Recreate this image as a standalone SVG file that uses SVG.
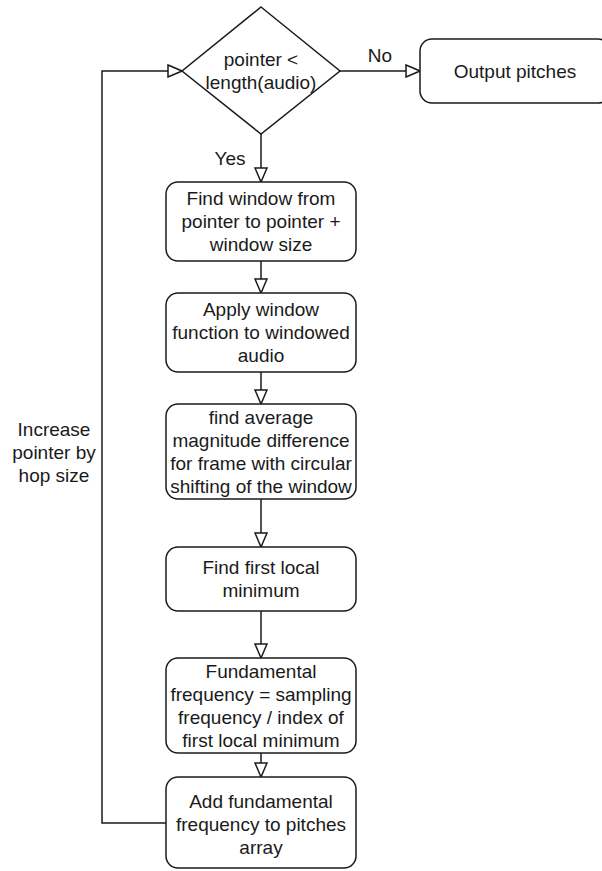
<svg xmlns="http://www.w3.org/2000/svg" width="602" height="871" viewBox="0 0 602 871">
  <style>
    .shape { fill: #ffffff; stroke: #1a1a1a; stroke-width: 1.5; }
    .edge { fill: none; stroke: #1a1a1a; stroke-width: 1.5; marker-end: url(#openArrow); }
    text { font-family: "Liberation Sans", Arial, Helvetica, sans-serif; font-size: 19px; fill: #1a1a1a; text-anchor: middle; }
  </style>
  <defs>
    <marker id="openArrow" markerUnits="userSpaceOnUse" viewBox="0 0 16 14" markerWidth="16" markerHeight="14" refX="15" refY="7" orient="auto">
      <path d="M1,1 L15,7 L1,13 Z" fill="#ffffff" stroke="#1a1a1a" stroke-width="1.5"/>
    </marker>
  </defs>

  <rect width="602" height="871" fill="#ffffff"/>

  <g id="connectors">
    <line class="edge" x1="261" y1="134" x2="261" y2="182"/>
    <line class="edge" x1="340" y1="71" x2="420" y2="71"/>
    <line class="edge" x1="261" y1="261" x2="261" y2="293"/>
    <line class="edge" x1="261" y1="372" x2="261" y2="404"/>
    <line class="edge" x1="261" y1="499" x2="261" y2="547"/>
    <line class="edge" x1="261" y1="611" x2="261" y2="658"/>
    <line class="edge" x1="261" y1="753" x2="261" y2="777"/>
    <polyline class="edge" points="166,823 102,823 102,71 182,71"/>
    <text x="380" y="62">No</text>
    <text x="230" y="165">Yes</text>
    <text x="54" y="436">Increase</text>
    <text x="54" y="459">pointer by</text>
    <text x="54" y="482">hop size</text>
  </g>

  <g id="decision">
    <polygon class="shape" points="261,7 340,71 261,134 182,71"/>
    <text x="261" y="66">pointer &lt;</text>
    <text x="261" y="89">length(audio)</text>
  </g>

  <g id="output-pitches">
    <rect class="shape" x="420" y="39" width="190" height="64" rx="12"/>
    <text x="515" y="78">Output pitches</text>
  </g>

  <g id="find-window">
    <rect class="shape" x="166" y="182" width="190" height="79" rx="12"/>
    <text x="261" y="205">Find window from</text>
    <text x="261" y="228">pointer to pointer +</text>
    <text x="261" y="251">window size</text>
  </g>

  <g id="apply-window">
    <rect class="shape" x="166" y="293" width="190" height="79" rx="12"/>
    <text x="261" y="316">Apply window</text>
    <text x="261" y="339">function to windowed</text>
    <text x="261" y="362">audio</text>
  </g>

  <g id="amdf">
    <rect class="shape" x="166" y="404" width="190" height="95" rx="12"/>
    <text x="261" y="424">find average</text>
    <text x="261" y="447">magnitude difference</text>
    <text x="261" y="470">for frame with circular</text>
    <text x="261" y="493">shifting of the window</text>
  </g>

  <g id="local-minimum">
    <rect class="shape" x="166" y="547" width="190" height="64" rx="12"/>
    <text x="261" y="574">Find first local</text>
    <text x="261" y="597">minimum</text>
  </g>

  <g id="fundamental">
    <rect class="shape" x="166" y="658" width="190" height="95" rx="12"/>
    <text x="261" y="678">Fundamental</text>
    <text x="261" y="701">frequency = sampling</text>
    <text x="261" y="724">frequency / index of</text>
    <text x="261" y="747">first local minimum</text>
  </g>

  <g id="append-pitch">
    <rect class="shape" x="166" y="777" width="190" height="91" rx="12"/>
    <text x="261" y="808">Add fundamental</text>
    <text x="261" y="831">frequency to pitches</text>
    <text x="261" y="854">array</text>
  </g>
</svg>
